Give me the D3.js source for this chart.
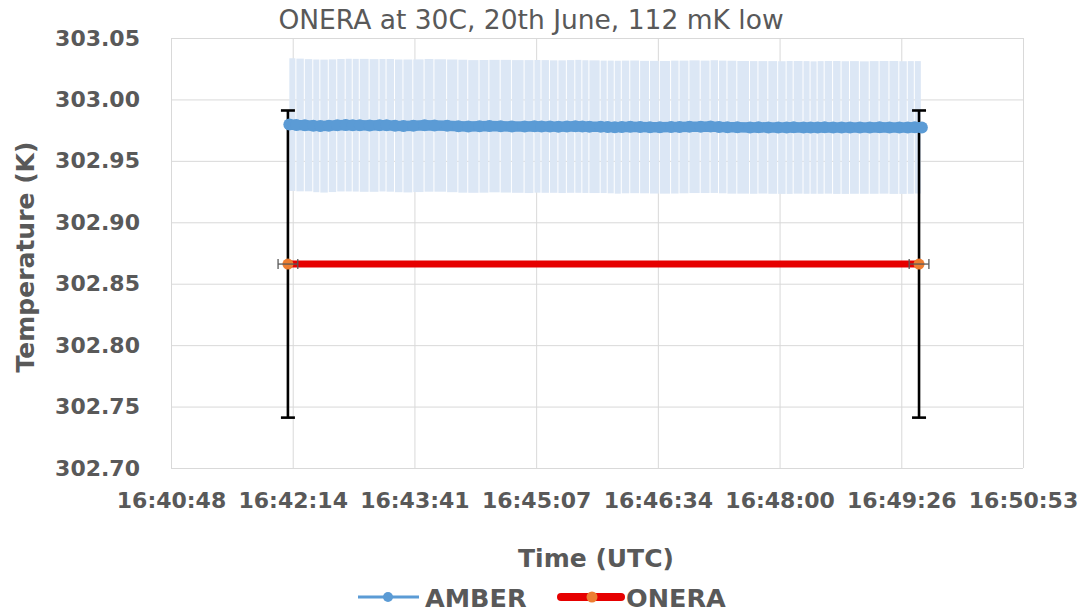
<!DOCTYPE html>
<html>
<head>
<meta charset="utf-8">
<script src="https://cdn.jsdelivr.net/npm/d3@7"></script>
<style>
  html, body { margin: 0; padding: 0; background: #fff; }
  svg { display: block; }
</style>
</head>
<body>
<script>
// ---------------- DATA ----------------
const chartTitle = "ONERA at 30C, 20th June, 112 mK low";
const xAxisTitle = "Time (UTC)";
const yAxisTitle = "Temperature (K)";
const seriesNames = ["AMBER", "ONERA"];

// x axis: Excel day fractions
const xMin = 0.695, xMax = 0.702, xMajor = 0.001;
const xTickLabels = ["16:40:48", "16:42:14", "16:43:41", "16:45:07", "16:46:34", "16:48:00", "16:49:26", "16:50:53"];
const yTicks = [302.70, 302.75, 302.80, 302.85, 302.90, 302.95, 303.00, 303.05];

// AMBER series (time, temperature, error)
const amberTimes = [
  "16:42:12","16:42:17","16:42:23","16:42:29","16:42:34","16:42:40","16:42:46","16:42:52",
  "16:42:57","16:43:02","16:43:09","16:43:16","16:43:21","16:43:27","16:43:33","16:43:40",
  "16:43:48","16:43:55","16:44:04","16:44:12","16:44:19","16:44:27","16:44:34","16:44:42",
  "16:44:50","16:44:59","16:45:06","16:45:11","16:45:17","16:45:23","16:45:29","16:45:35",
  "16:45:40","16:45:45","16:45:53","16:45:58","16:46:03","16:46:08","16:46:14","16:46:21",
  "16:46:28","16:46:35","16:46:43","16:46:49","16:46:56","16:47:04","16:47:11","16:47:17",
  "16:47:23","16:47:30","16:47:39","16:47:45","16:47:52","16:47:59","16:48:05","16:48:10",
  "16:48:17","16:48:22","16:48:27","16:48:32","16:48:38","16:48:44","16:48:50","16:48:57",
  "16:49:04","16:49:11","16:49:18","16:49:25","16:49:31","16:49:36","16:49:41"
];
const amberValues = [
  302.9795,302.9792,302.9790,302.9785,302.9783,302.9786,302.9790,302.9791,
  302.9790,302.9789,302.9788,302.9790,302.9789,302.9785,302.9784,302.9786,
  302.9789,302.9788,302.9785,302.9782,302.9780,302.9781,302.9783,302.9782,
  302.9780,302.9779,302.9781,302.9780,302.9779,302.9778,302.9780,302.9781,
  302.9779,302.9778,302.9777,302.9776,302.9774,302.9776,302.9777,302.9775,
  302.9774,302.9773,302.9775,302.9776,302.9778,302.9777,302.9779,302.9776,
  302.9774,302.9773,302.9772,302.9773,302.9772,302.9771,302.9772,302.9773,
  302.9772,302.9771,302.9772,302.9773,302.9772,302.9771,302.9772,302.9771,
  302.9772,302.9773,302.9772,302.9771,302.9772,302.9773,302.9772
];
const amberErrors = [
  0.0540,0.0540,0.0538,0.0540,0.0541,0.0540,0.0539,0.0540,
  0.0540,0.0541,0.0540,0.0539,0.0540,0.0540,0.0541,0.0540,
  0.0540,0.0539,0.0540,0.0541,0.0540,0.0540,0.0539,0.0540,
  0.0540,0.0541,0.0540,0.0540,0.0539,0.0540,0.0540,0.0541,
  0.0540,0.0540,0.0539,0.0540,0.0541,0.0540,0.0540,0.0539,
  0.0540,0.0540,0.0541,0.0540,0.0540,0.0539,0.0540,0.0540,
  0.0541,0.0540,0.0540,0.0539,0.0540,0.0540,0.0541,0.0540,
  0.0540,0.0539,0.0540,0.0540,0.0541,0.0540,0.0540,0.0539,
  0.0540,0.0540,0.0541,0.0540,0.0540,0.0539,0.0540
];

// ONERA series
const oneraTimes = ["16:42:11", "16:49:39"];
const oneraValues = [302.866, 302.866];
const oneraYErr = [0.125, 0.125];
const oneraXErrSec = [7, 7];

// ---------------- CHART ----------------
const W = 1085, H = 612;
const plot = { left: 171, right: 1023, top: 38, bottom: 468 };
const FONT = "'DejaVu Sans', sans-serif";
const TEXT = "#595959";

const toDay = s => { const [h, m, sec] = s.split(":").map(Number); return (h * 3600 + m * 60 + sec) / 86400; };

const amber = amberTimes.map((t, i) => ({ x: toDay(t), v: amberValues[i], e: amberErrors[i] }));
const onera = oneraTimes.map((t, i) => ({ x: toDay(t), v: oneraValues[i], ey: oneraYErr[i], ex: oneraXErrSec[i] / 86400 }));

const x = d3.scaleLinear().domain([xMin, xMax]).range([plot.left, plot.right]);
const y = d3.scaleLinear().domain([yTicks[0], yTicks[yTicks.length - 1]]).range([plot.bottom, plot.top]);
const xTickVals = xTickLabels.map((_, i) => xMin + i * xMajor);

const svg = d3.select("body").append("svg").attr("width", W).attr("height", H);
svg.append("rect").attr("width", W).attr("height", H).attr("fill", "#fff");

// grid
const gridY = svg.append("g").attr("transform", `translate(${plot.left},0)`)
  .call(d3.axisLeft(y).tickValues(yTicks).tickSize(-(plot.right - plot.left)).tickFormat(""));
const gridX = svg.append("g").attr("transform", `translate(0,${plot.bottom})`)
  .call(d3.axisBottom(x).tickValues(xTickVals).tickSize(-(plot.bottom - plot.top)).tickFormat(""));
[gridY, gridX].forEach(g => {
  g.select(".domain").remove();
  g.selectAll(".tick line").attr("stroke", "#D9D9D9").attr("stroke-width", 1);
});

// AMBER error band (one bar per point)
svg.append("g").selectAll("rect").data(amber.slice(0, -1)).join("rect")
  .attr("x", (d, i) => x(d.x))
  .attr("width", (d, i) => Math.max(0.5, x(amber[i + 1].x) - x(d.x) - 1))
  .attr("y", d => y(d.v + d.e))
  .attr("height", d => y(d.v - d.e) - y(d.v + d.e))
  .attr("fill", "#DCE7F5");

// ONERA vertical error bars (black)
const yerr = svg.append("g").attr("stroke", "#000").attr("stroke-width", 2.6);
onera.forEach(d => {
  yerr.append("line").attr("x1", x(d.x)).attr("x2", x(d.x)).attr("y1", y(d.v + d.ey)).attr("y2", y(d.v - d.ey));
  yerr.append("line").attr("x1", x(d.x) - 7).attr("x2", x(d.x) + 7).attr("y1", y(d.v + d.ey)).attr("y2", y(d.v + d.ey));
  yerr.append("line").attr("x1", x(d.x) - 7).attr("x2", x(d.x) + 7).attr("y1", y(d.v - d.ey)).attr("y2", y(d.v - d.ey));
});

// AMBER line + markers
const line = d3.line().x(d => x(d.x)).y(d => y(d.v));
svg.append("path").datum(amber).attr("d", line).attr("fill", "none")
  .attr("stroke", "#5B9BD5").attr("stroke-width", 10.5).attr("stroke-linejoin", "round").attr("stroke-linecap", "round");
svg.append("g").selectAll("circle").data(amber).join("circle")
  .attr("cx", d => x(d.x)).attr("cy", d => y(d.v)).attr("r", 6).attr("fill", "#5B9BD5");

// ONERA line
svg.append("path").datum(onera).attr("d", line).attr("fill", "none")
  .attr("stroke", "#E60000").attr("stroke-width", 7);
// ONERA markers
svg.append("g").selectAll("circle").data(onera).join("circle")
  .attr("cx", d => x(d.x)).attr("cy", d => y(d.v)).attr("r", 5.5).attr("fill", "#ED7D31");
// ONERA horizontal error bars
const xerr = svg.append("g").attr("stroke", "#595959").attr("stroke-width", 1.3);
onera.forEach(d => {
  const cy = y(d.v);
  xerr.append("line").attr("x1", x(d.x - d.ex)).attr("x2", x(d.x + d.ex)).attr("y1", cy).attr("y2", cy);
  xerr.append("line").attr("x1", x(d.x - d.ex)).attr("x2", x(d.x - d.ex)).attr("y1", cy - 5).attr("y2", cy + 5);
  xerr.append("line").attr("x1", x(d.x + d.ex)).attr("x2", x(d.x + d.ex)).attr("y1", cy - 5).attr("y2", cy + 5);
});

// axis labels
const yAx = svg.append("g").attr("transform", `translate(${plot.left},0)`)
  .call(d3.axisLeft(y).tickValues(yTicks).tickSize(0).tickPadding(31).tickFormat(d3.format(".2f")));
const xAx = svg.append("g").attr("transform", `translate(0,${plot.bottom})`)
  .call(d3.axisBottom(x).tickValues(xTickVals).tickSize(0).tickPadding(24).tickFormat((d, i) => xTickLabels[i]));
[yAx, xAx].forEach(g => {
  g.select(".domain").remove();
  g.selectAll("text").attr("font-family", FONT).attr("font-size", 22).attr("font-weight", "bold").attr("fill", TEXT);
});

// title
svg.append("text").attr("x", 531).attr("y", 29).attr("text-anchor", "middle")
  .attr("font-family", FONT).attr("font-size", 26.5).attr("fill", TEXT).text(chartTitle);

// axis titles
svg.append("text").attr("transform", "translate(34,257) rotate(-90)").attr("text-anchor", "middle")
  .attr("font-family", FONT).attr("font-size", 25).attr("font-weight", "bold").attr("fill", TEXT).text(yAxisTitle);
svg.append("text").attr("x", 596).attr("y", 567).attr("text-anchor", "middle")
  .attr("font-family", FONT).attr("font-size", 25).attr("font-weight", "bold").attr("fill", TEXT).text(xAxisTitle);

// legend
const lg = svg.append("g");
lg.append("line").attr("x1", 358).attr("x2", 419).attr("y1", 597).attr("y2", 597).attr("stroke", "#5B9BD5").attr("stroke-width", 3);
lg.append("circle").attr("cx", 388).attr("cy", 597).attr("r", 5).attr("fill", "#5B9BD5");
lg.append("text").attr("x", 425).attr("y", 607).attr("font-family", FONT).attr("font-size", 25.5)
  .attr("font-weight", "bold").attr("fill", TEXT).text(seriesNames[0]);
lg.append("line").attr("x1", 561).attr("x2", 621).attr("y1", 597).attr("y2", 597).attr("stroke", "#E60000")
  .attr("stroke-width", 8).attr("stroke-linecap", "round");
lg.append("circle").attr("cx", 592).attr("cy", 597).attr("r", 5.5).attr("fill", "#ED7D31");
lg.append("text").attr("x", 626).attr("y", 607).attr("font-family", FONT).attr("font-size", 25.5)
  .attr("font-weight", "bold").attr("fill", TEXT).text(seriesNames[1]);
</script>
</body>
</html>
